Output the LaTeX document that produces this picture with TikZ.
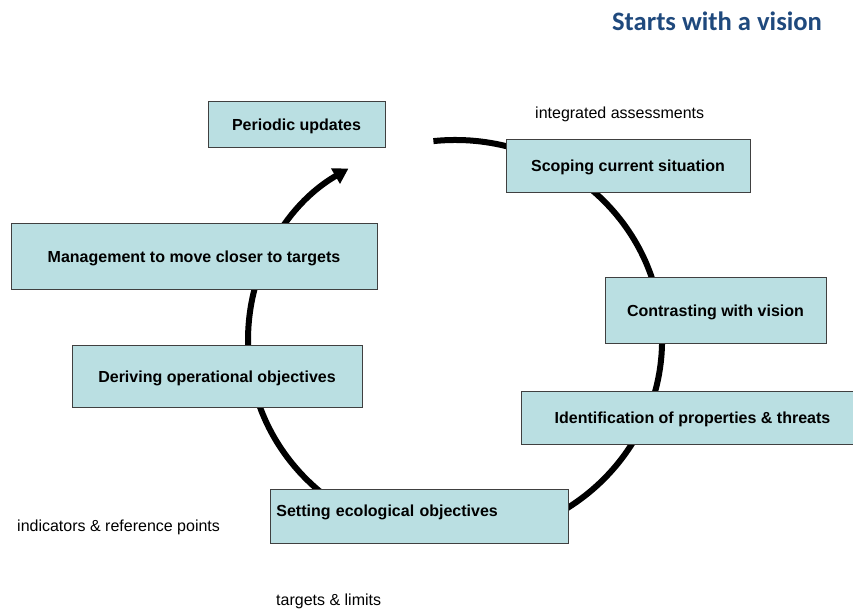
\documentclass[tikz,border=0pt]{standalone}
\usepackage{fontspec}
\setmainfont{Liberation Sans}
\newfontfamily\titlefont{Carlito}
\usetikzlibrary{arrows.meta}
\definecolor{boxfill}{RGB}{186,223,226}
\definecolor{titleblue}{RGB}{31,73,125}
\begin{document}
\begin{tikzpicture}[x=1pt,y=1pt,
  stepbox/.style={draw=black!75, line width=0.8pt, fill=boxfill, inner sep=0pt,
    font=\fontsize{16}{19}\selectfont\bfseries, text height=12.5pt, text depth=0pt},
  lbl/.style={inner sep=0pt, font=\fontsize{16}{19}\selectfont, anchor=base west},
  loopline/.style={line width=6pt, -{Triangle[length=15pt 0,width=17pt 0]}}]
\useasboundingbox (0,0) rectangle (853,610);
\clip (0,0) rectangle (853,610);
% cycle arc
\coordinate (arcstart) at (433.4,468.9);
\draw[loopline] (arcstart) arc[start angle=96, end angle=-239, x radius=207, y radius=200];
% boxes
\node[stepbox, minimum width=177pt, minimum height=46pt] (periodic) at (296.5,486) {Periodic updates};
\node[stepbox, minimum width=244pt, minimum height=53pt] (scoping) at (628,444.5) {Scoping current situation};
\node[stepbox, minimum width=366pt, minimum height=66pt] (manage) at (194,354) {Management to move closer to targets};
\node[stepbox, minimum width=290pt, minimum height=62pt] (deriving) at (217,234) {Deriving operational objectives};
\node[stepbox, minimum width=221pt, minimum height=66pt] (contrast) at (715.5,300) {Contrasting with vision};
\node[stepbox, minimum width=343pt, minimum height=53pt] (ident) at (692.5,192.5) {Identification of properties \& threats};
\node[stepbox, anchor=north west, text width=286pt, align=left, inner xsep=6pt,
  text height=27pt, text depth=27pt] (setting) at (270,121) {Setting ecological objectives};
% labels
\node[lbl] (integ) at (535,491) {integrated assessments};
\node[lbl] (indic) at (17,78) {indicators \& reference points};
\node[lbl] (targets) at (276,4.5) {targets \& limits};
% title
\node[font=\titlefont\fontsize{26.6}{32}\selectfont\bfseries, text=titleblue, anchor=base, inner sep=0pt] (title) at (717,579) {Starts with a vision};
\end{tikzpicture}
\end{document}
